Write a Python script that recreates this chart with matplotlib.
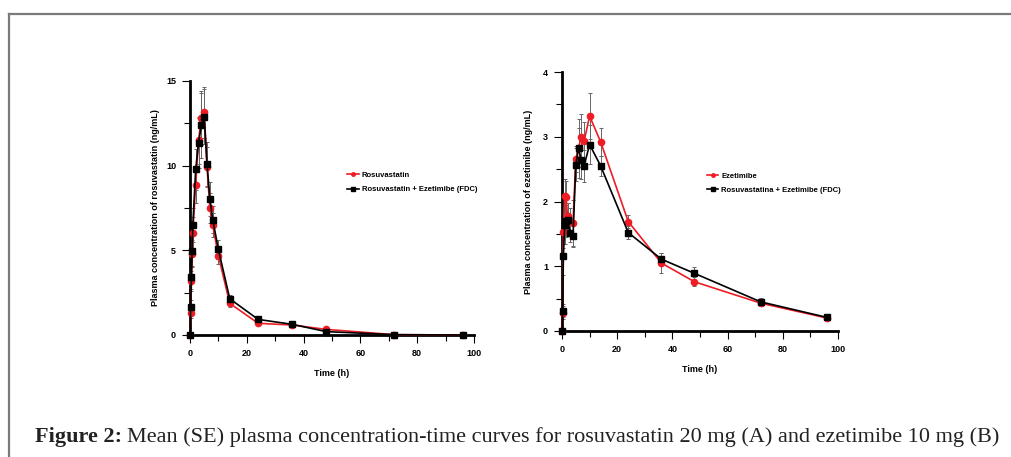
import numpy as np
import matplotlib
matplotlib.use("Agg")
import matplotlib.pyplot as plt
from matplotlib.lines import Line2D
from matplotlib.ticker import MultipleLocator

# ---- data ----
times_a = [0, 0.25, 0.5, 0.75, 1, 2, 3, 4, 5, 6, 7, 8, 10, 14, 24, 36, 48, 72, 96]
rosu_mono = [0, 1.28, 3.2, 4.8, 6.05, 8.88, 11.5, 12.8, 13.16, 9.92, 7.5, 6.48, 4.68, 1.87, 0.69, 0.59, 0.33, 0.02, 0.0]
rosu_fdc = [0, 1.67, 3.4, 4.97, 6.48, 9.78, 11.34, 12.38, 12.9, 10.08, 8.05, 6.82, 5.05, 2.14, 0.92, 0.63, 0.2, 0.02, 0.0]
rosu_mono_se = [0, 0.3, 0.6, 0.8, 0.9, 1.1, 1.4, 1.6, 1.5, 1.2, 0.9, 0.7, 0.5, 0.2, 0.08, 0.06, 0.04, 0, 0]
rosu_fdc_se = [0, 0.4, 0.7, 0.9, 1.0, 1.2, 1.5, 1.9, 1.6, 1.3, 1.0, 0.8, 0.55, 0.25, 0.1, 0.07, 0.03, 0, 0]

times_b = [0, 0.25, 0.5, 1, 1.5, 2, 3, 4, 5, 6, 7, 8, 10, 14, 24, 36, 48, 72, 96]
ezet_mono = [0, 0.28, 1.53, 2.08, 2.07, 1.77, 1.70, 1.67, 2.65, 2.83, 3.0, 2.93, 3.32, 2.92, 1.69, 1.05, 0.76, 0.43, 0.20]
ezet_fdc = [0, 0.31, 1.16, 1.64, 1.70, 1.72, 1.52, 1.47, 2.57, 2.82, 2.64, 2.55, 2.88, 2.55, 1.52, 1.11, 0.89, 0.45, 0.21]
ezet_mono_se = [0, 0.1, 0.25, 0.27, 0.25, 0.2, 0.2, 0.35, 0.2, 0.3, 0.35, 0.3, 0.36, 0.22, 0.1, 0.15, 0.07, 0.05, 0.02]
ezet_fdc_se = [0, 0.1, 0.3, 0.3, 0.25, 0.25, 0.15, 0.18, 0.25, 0.45, 0.3, 0.25, 0.3, 0.15, 0.1, 0.09, 0.1, 0.06, 0.03]

W, H = 1012, 457
RED = "#ee1c24"
plt.rcParams['font.family'] = ['Liberation Sans', 'DejaVu Sans']

fig = plt.figure(figsize=(W / 100, H / 100), dpi=100)


def px_axes(x0, x1, y0, y1):
    # pixel box -> figure fraction
    return fig.add_axes([x0 / W, 1 - y1 / H, (x1 - x0) / W, (y1 - y0) / H])


def draw_panel(ax, t, mono, mono_se, fdc, fdc_se, ymax, ymajor, yminor,
               ylabel, lab_mono, lab_fdc, leg_anchor):
    ax.errorbar(t, mono, yerr=mono_se, fmt='none', ecolor='#666666',
                elinewidth=0.7, capsize=1.5, capthick=0.7, clip_on=False, zorder=2)
    ax.errorbar(t, fdc, yerr=fdc_se, fmt='none', ecolor='#666666',
                elinewidth=0.7, capsize=1.5, capthick=0.7, clip_on=False, zorder=2)
    ax.plot(t, mono, color=RED, lw=1.2, marker='o', ms=4.5, mec=RED,
            label=lab_mono, clip_on=False, zorder=3)
    ax.plot(t, fdc, color='black', lw=1.2, marker='s', ms=5,
            label=lab_fdc, clip_on=False, zorder=4)

    ax.set_xlim(0, 100)
    ax.set_ylim(0, ymax)
    for s in ('top', 'right'):
        ax.spines[s].set_visible(False)
    for s in ('left', 'bottom'):
        ax.spines[s].set_linewidth(2)
    ax.xaxis.set_major_locator(MultipleLocator(20))
    ax.xaxis.set_minor_locator(MultipleLocator(10))
    ax.yaxis.set_major_locator(MultipleLocator(ymajor))
    ax.yaxis.set_minor_locator(MultipleLocator(yminor))
    ax.tick_params(which='major', length=6, width=0.8, labelsize=6.5, pad=4)
    ax.tick_params(which='minor', length=4, width=0.8)
    for lab in ax.get_xticklabels() + ax.get_yticklabels():
        lab.set_fontweight('bold')
    ax.set_xlabel('Time (h)', fontsize=6.5, fontweight='bold', labelpad=8)
    ax.set_ylabel(ylabel, fontsize=6.5, fontweight='bold')
    ax.yaxis.set_label_coords(-0.105, 0.5)

    handles = [Line2D([], [], color=RED, lw=1.2, marker='o', ms=2.5),
               Line2D([], [], color='black', lw=1.2, marker='s', ms=2.5)]
    leg = ax.legend(handles, [lab_mono, lab_fdc], loc='center left',
                    bbox_to_anchor=leg_anchor, frameon=False, handlelength=1.5,
                    handletextpad=0.4, labelspacing=0.9,
                    prop={'size': 5.5, 'weight': 'bold'})
    return leg


ax1 = px_axes(190, 474, 81, 335)
draw_panel(ax1, times_a, rosu_mono, rosu_mono_se, rosu_fdc, rosu_fdc_se,
           15, 5, 2.5, 'Plasma concentration of rosuvastatin (ng/mL)',
           'Rosuvastatin', 'Rosuvastatin + Ezetimibe (FDC)', (0.53, 0.6))

ax2 = px_axes(562, 838, 72, 331)
draw_panel(ax2, times_b, ezet_mono, ezet_mono_se, ezet_fdc, ezet_fdc_se,
           4, 1, 0.5, 'Plasma concentration of ezetimibe (ng/mL)',
           'Ezetimibe', 'Rosuvastatina + Ezetimibe (FDC)', (0.5, 0.57))

# outer frame (left and top edges only are visible in the crop)
fig.add_artist(Line2D([8.5 / W, 8.5 / W], [0, 1 - 14 / H], color='#7a7a7a', lw=1.6))
fig.add_artist(Line2D([8.5 / W, 1], [1 - 14 / H, 1 - 14 / H], color='#7a7a7a', lw=1.6))

# caption: bold lead-in, then the rest placed right after it
serif = ['Liberation Serif', 'DejaVu Serif']
cap_y = 1 - 442 / H
lead = fig.text(35 / W, cap_y, 'Figure 2:', fontsize=16, fontweight='bold',
                family=serif, va='baseline', color='#222222')
fig.canvas.draw()
bb = lead.get_window_extent()
fig.text((bb.x1 + 5) / W, cap_y,
         'Mean (SE) plasma concentration-time curves for rosuvastatin 20 mg (A) and ezetimibe 10 mg (B)',
         fontsize=16, family=serif, va='baseline', color='#222222')

fig.savefig('out.png', dpi=100)
